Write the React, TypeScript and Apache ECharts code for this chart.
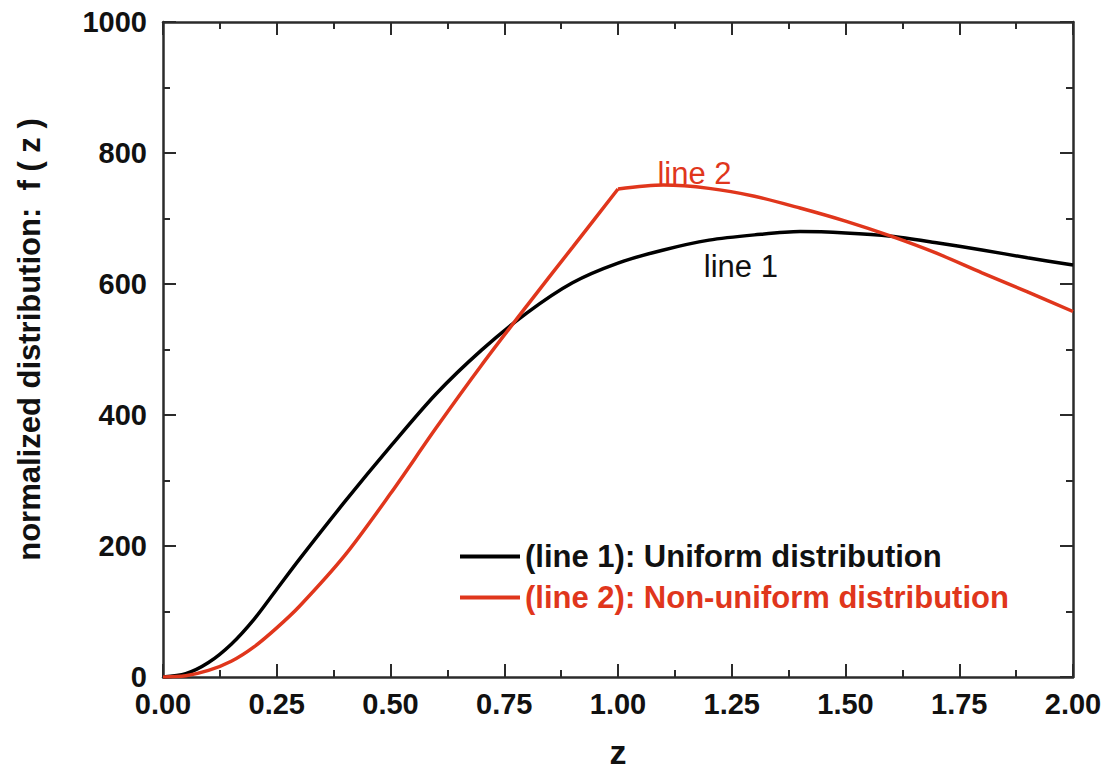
import React, { useEffect, useRef } from "react";
import * as echarts from "echarts";

// ---- data ----
const zLine1 = [0, 0.05, 0.1, 0.15, 0.2, 0.25, 0.3, 0.4, 0.5, 0.6, 0.7, 0.8, 0.9, 1.0, 1.1, 1.2, 1.3, 1.4, 1.5, 1.6, 1.7, 1.8, 1.9, 2.0];
const line1 = [0, 5, 22, 50, 88, 134, 180, 268, 352, 432, 499, 556, 602, 632, 652, 667, 675, 680, 678, 673, 663, 652, 640, 629];

const zLine2a = [0, 0.05, 0.1, 0.15, 0.2, 0.25, 0.3, 0.4, 0.5, 0.6, 0.7, 0.8, 0.9, 1.0];
const line2a = [0, 2, 10, 24, 46, 75, 108, 186, 280, 380, 476, 567, 656, 745];
const zLine2b = [1.0, 1.1, 1.2, 1.3, 1.4, 1.5, 1.6, 1.7, 1.8, 1.9, 2.0];
const line2b = [745, 751, 746, 734, 716, 696, 673, 647, 617, 588, 558];

const xTicks = [0, 0.25, 0.5, 0.75, 1.0, 1.25, 1.5, 1.75, 2.0];
const yTicks = [0, 200, 400, 600, 800, 1000];

const name1 = "(line 1): Uniform distribution";
const name2 = "(line 2): Non-uniform distribution";
const RED = "#e0361c";
const AXIS = "#2b2b2b";
const FONT = "'Liberation Sans', Arial, sans-serif";

const pairs = (xs: number[], ys: number[]) => xs.map((x, i) => [x, ys[i]]);

export default function App() {
  const ref = useRef<HTMLDivElement>(null);
  useEffect(() => {
    const chart = echarts.init(ref.current!, null, { renderer: "svg" });
    const axisCommon = {
      axisLine: { show: true, onZero: false, lineStyle: { color: AXIS, width: 2.5 } },
      axisTick: { show: true, inside: true, length: 13, lineStyle: { color: AXIS, width: 2 } },
      minorTick: { show: true, splitNumber: 2, length: 7, lineStyle: { color: AXIS, width: 2 } },
      splitLine: { show: false },
    };
    const lineCommon = { type: "line", smooth: 0.3, showSymbol: false };
    chart.setOption({
      animation: false,
      backgroundColor: "#ffffff",
      grid: { left: 163, right: 31, top: 22, bottom: 97, containLabel: false, outerBoundsMode: "none" },
      xAxis: [
        {
          type: "value",
          min: xTicks[0],
          max: xTicks[xTicks.length - 1],
          interval: 0.25,
          position: "bottom",
          name: "z",
          nameLocation: "middle",
          nameGap: 62,
          nameTextStyle: { fontSize: 34, lineHeight: 26, fontWeight: "bold", color: "#111", fontFamily: FONT },
          axisLabel: {
            margin: 16,
            fontSize: 29,
            lineHeight: 22,
            fontWeight: "bold",
            color: "#111",
            fontFamily: FONT,
            formatter: (v: number) => v.toFixed(2),
          },
          ...axisCommon,
        },
        {
          type: "value",
          min: xTicks[0],
          max: xTicks[xTicks.length - 1],
          interval: 0.25,
          position: "top",
          axisLabel: { show: false },
          ...axisCommon,
        },
      ],
      yAxis: [
        {
          type: "value",
          min: yTicks[0],
          max: yTicks[yTicks.length - 1],
          interval: 200,
          position: "left",
          name: "normalized distribution:  f ( z )",
          nameLocation: "middle",
          nameGap: 118,
          nameTextStyle: { fontSize: 31, fontWeight: "bold", color: "#111", fontFamily: FONT, padding: [0, 0, 0, 20] },
          axisLabel: {
            margin: 16,
            fontSize: 29,
            lineHeight: 22,
            padding: [0, 0, 4, 0],
            fontWeight: "bold",
            color: "#111",
            fontFamily: FONT,
            formatter: (v: number) => String(v),
          },
          ...axisCommon,
        },
        {
          type: "value",
          min: yTicks[0],
          max: yTicks[yTicks.length - 1],
          interval: 200,
          position: "right",
          axisLabel: { show: false },
          ...axisCommon,
        },
      ],
      legend: {
        orient: "vertical",
        left: 460,
        top: 540,
        padding: 0,
        itemWidth: 60,
        itemHeight: 4,
        itemGap: 8,
        icon: "rect",
        textStyle: { fontSize: 31, fontWeight: "bold", fontFamily: FONT, lineHeight: 33 },
        data: [
          { name: name1, textStyle: { color: "#111" } },
          { name: name2, textStyle: { color: RED } },
        ],
      },
      series: [
        {
          ...lineCommon,
          name: name1,
          data: pairs(zLine1, line1),
          color: "#000",
          lineStyle: { color: "#000", width: 3.5 },
          z: 3,
          markPoint: {
            symbol: "circle",
            symbolSize: 0,
            data: [
              {
                coord: [1.27, 627],
                label: { show: true, position: "inside", formatter: "line 1", fontSize: 31, color: "#111", fontFamily: FONT },
              },
            ],
          },
        },
        {
          ...lineCommon,
          name: name2,
          data: pairs(zLine2a, line2a),
          color: RED,
          lineStyle: { color: RED, width: 3.5 },
          z: 4,
        },
        {
          ...lineCommon,
          name: name2,
          data: pairs(zLine2b, line2b),
          color: RED,
          lineStyle: { color: RED, width: 3.5 },
          z: 4,
          markPoint: {
            symbol: "circle",
            symbolSize: 0,
            data: [
              {
                coord: [1.168, 769],
                label: { show: true, position: "inside", formatter: "line 2", fontSize: 31, color: RED, fontFamily: FONT },
              },
            ],
          },
        },
      ],
    });
    return () => chart.dispose();
  }, []);
  return (
    <div
      ref={ref}
      style={{ position: "fixed", left: 0, top: 0, width: 1104, height: 774, background: "#fff" }}
    />
  );
}
